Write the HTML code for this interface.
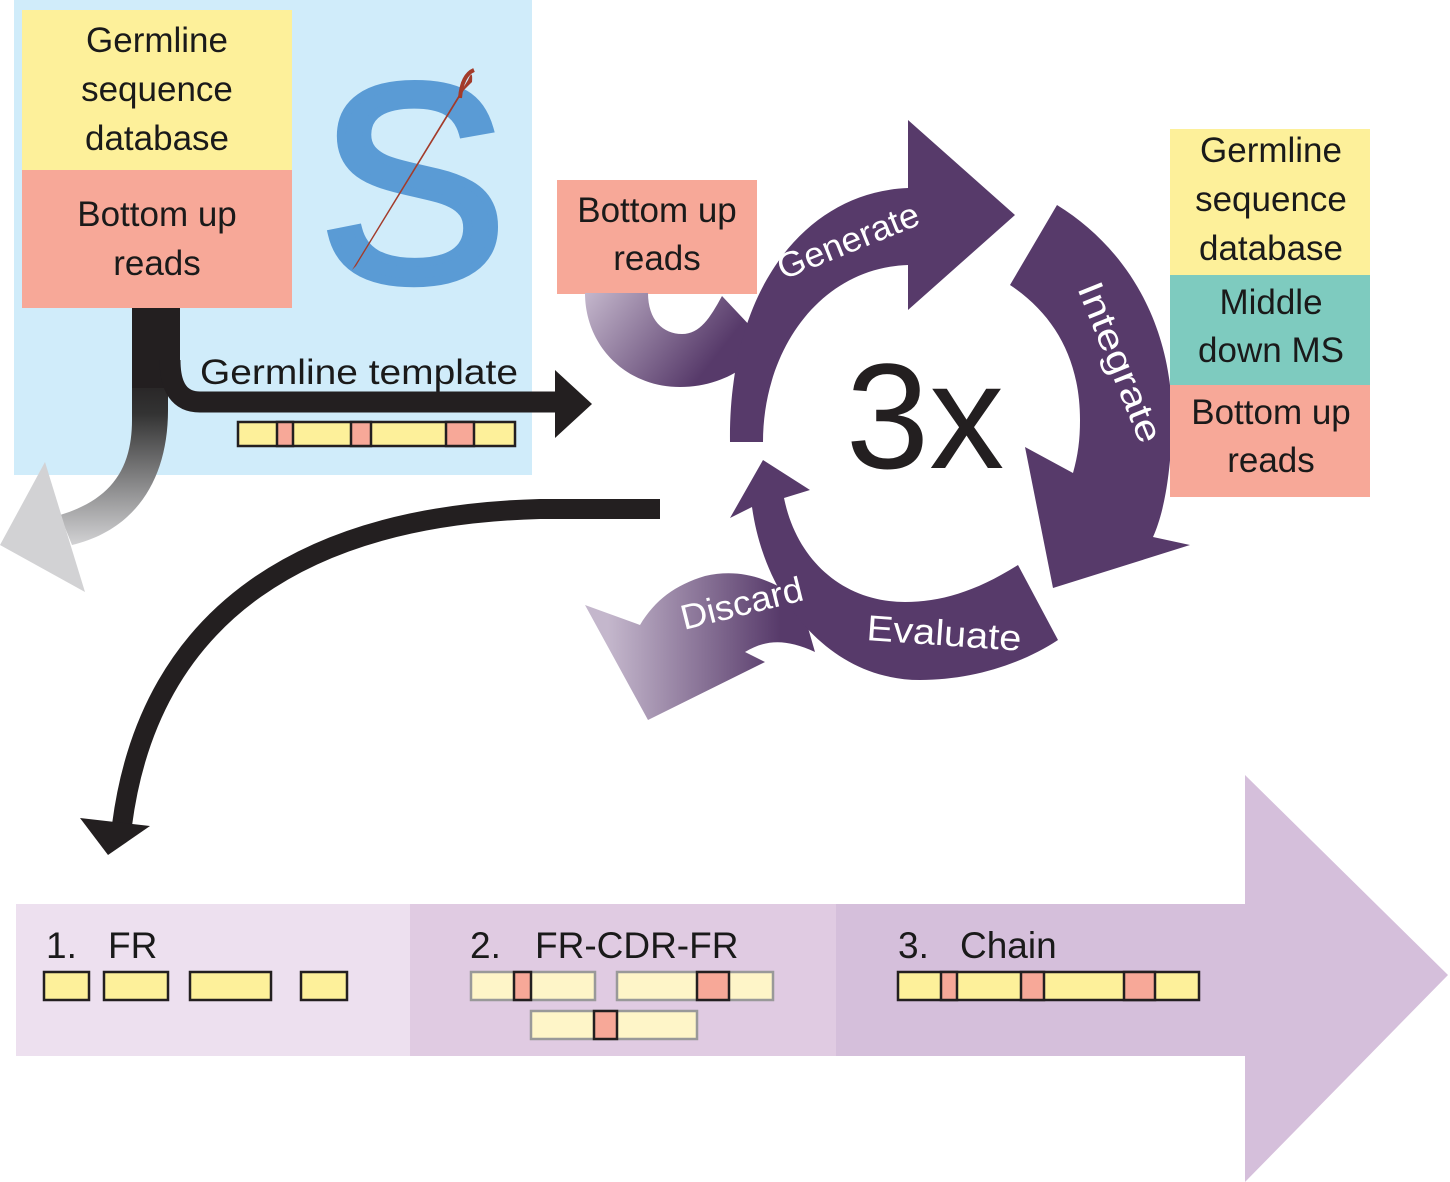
<!DOCTYPE html>
<html><head><meta charset="utf-8"><style>
html,body{margin:0;padding:0;background:#fff;}
svg{display:block;}
text{font-family:"Liberation Sans",sans-serif;fill:#1a1a1a;}
.w{fill:#fff;}
</style></head><body>
<svg width="1450" height="1182" viewBox="0 0 1450 1182" xmlns="http://www.w3.org/2000/svg">
<defs>
<linearGradient id="gg" x1="0" y1="0" x2="0" y2="1">
<stop offset="0" stop-color="#231f20"/><stop offset="0.25" stop-color="#333"/><stop offset="1" stop-color="#d2d2d4"/></linearGradient>
<linearGradient id="gt" x1="0" y1="0" x2="1" y2="0.4">
<stop offset="0" stop-color="#c4b7cc"/><stop offset="0.85" stop-color="#573a6a"/></linearGradient>
<linearGradient id="gd" x1="0" y1="0" x2="1" y2="0">
<stop offset="0.1" stop-color="#c4b7cc"/><stop offset="0.85" stop-color="#573a6a"/></linearGradient>
</defs>

<!-- blue panel -->
<rect x="14" y="0" width="518" height="475" fill="#d0ecfa"/>
<rect x="22" y="10" width="270" height="161" fill="#fdf09a"/>
<rect x="22" y="170" width="270" height="138" fill="#f7a898"/>
<g font-size="35" text-anchor="middle">
<text x="157" y="52">Germline</text><text x="157" y="101">sequence</text><text x="157" y="150">database</text>
<text x="157" y="226">Bottom up</text><text x="157" y="275">reads</text>
</g>
<text x="413" y="280" font-size="280" text-anchor="middle" style="fill:#5a9bd5;stroke:#5a9bd5;stroke-width:9" font-family="Liberation Sans">S</text>
<path d="M352,270 L468,80 Q473,68 472,82 L464,90 L356,266 Z" fill="#a33b2a"/>
<path d="M460,98 Q462,75 474,70" stroke="#a33b2a" stroke-width="4" fill="none"/>

<!-- grey down arrow -->
<path d="M132,370 L132,420 C132,470 110,500 60,515 L72,545 C135,530 168,480 168,410 L168,370 Z" fill="url(#gg)"/>
<polygon points="0,545 45,462 85,592" fill="#d2d2d4"/>
<rect x="132" y="308" width="48" height="80" fill="#231f20"/>
<path d="M170,360 Q170,402 200,402 L560,402" stroke="#231f20" stroke-width="21" fill="none"/>
<polygon points="555,370 592,404 555,438" fill="#231f20"/>
<text x="200" y="384" font-size="35" textLength="318" lengthAdjust="spacingAndGlyphs">Germline template</text>
<g stroke="#231f20" stroke-width="2.5">
<rect x="238" y="422" width="277" height="24" fill="#fdf09a"/>
<rect x="277" y="422" width="16" height="24" fill="#f7a898"/>
<rect x="351" y="422" width="20" height="24" fill="#f7a898"/>
<rect x="446" y="422" width="28" height="24" fill="#f7a898"/>
</g>

<!-- big black curve -->
<path d="M660,509 L540,509 C310,515 150,610 122,825" stroke="#231f20" stroke-width="20" fill="none"/>
<polygon points="80,818 150,826 108,855" fill="#231f20"/>

<!-- cycle -->
<rect x="557" y="180" width="200" height="114" fill="#f7a898"/>
<text x="657" y="222" font-size="35" text-anchor="middle">Bottom up</text>
<text x="657" y="270" font-size="35" text-anchor="middle">reads</text>
<path d="M585,293 L648,293 C648,320 663,334 682,334 C700,334 710,318 722,296 L768,345 C745,372 715,387 680,387 C625,387 585,345 585,293 Z" fill="url(#gt)"/>
<path d="M730,442 C728,290 805,192 908,188 L908,120 L1015,215 L908,310 L908,265 C820,268 763,350 763,442 Z" fill="#573a6a"/>
<path d="M1057,205 C1130,250 1175,330 1172,430 C1170,480 1163,515 1153,537 L1190,545 L1053,588 L1025,447 L1073,473 C1078,455 1080,440 1080,420 C1080,360 1055,315 1010,285 Z" fill="#573a6a"/>
<path d="M800,600 C770,578 740,568 705,576 C675,585 655,600 640,625 L585,605 L648,720 L765,662 L745,652 C765,640 785,638 815,652 Z" fill="url(#gd)"/>
<path d="M1018,565 C975,592 940,602 905,602 C845,602 797,562 784,498 L810,490 L763,460 L730,518 L752,507 C765,600 830,680 920,680 C970,680 1020,665 1058,640 Z" fill="#573a6a"/>

<text x="925" y="468" font-size="150" text-anchor="middle" style="fill:#231f20">3x</text>
<text class="w" font-size="35" transform="translate(783,280) rotate(-22)" textLength="150" lengthAdjust="spacingAndGlyphs">Generate</text>
<text class="w" font-size="36" transform="translate(1077,288) rotate(68)" textLength="170" lengthAdjust="spacingAndGlyphs">Integrate</text>
<text class="w" font-size="36" transform="translate(866,640) rotate(4)" textLength="155" lengthAdjust="spacingAndGlyphs">Evaluate</text>
<text class="w" font-size="35" transform="translate(684,630) rotate(-14)" textLength="125" lengthAdjust="spacingAndGlyphs">Discard</text>

<!-- right stack -->
<rect x="1170" y="129" width="200" height="147" fill="#fdf09a"/>
<rect x="1170" y="275" width="200" height="111" fill="#7ecbbf"/>
<rect x="1170" y="385" width="200" height="112" fill="#f7a898"/>
<g font-size="35" text-anchor="middle">
<text x="1271" y="162">Germline</text><text x="1271" y="211">sequence</text><text x="1271" y="260">database</text>
<text x="1271" y="314">Middle</text><text x="1271" y="362">down MS</text>
<text x="1271" y="424">Bottom up</text><text x="1271" y="472">reads</text>
</g>

<!-- bottom band -->
<rect x="16" y="904" width="395" height="152" fill="#ede0ef"/>
<rect x="410" y="904" width="427" height="152" fill="#e0cbe2"/>
<polygon points="836,904 1245,904 1245,775 1448,975 1245,1182 1245,1056 836,1056" fill="#d5bfdb"/>
<g font-size="37">
<text x="46" y="958">1.</text><text x="108" y="958">FR</text>
<text x="470" y="958">2.</text><text x="535" y="958">FR-CDR-FR</text>
<text x="898" y="958">3.</text><text x="960" y="958">Chain</text>
</g>
<g stroke="#231f20" stroke-width="2.5" fill="#fdf09a">
<rect x="44" y="972" width="45" height="28"/><rect x="104" y="972" width="64" height="28"/>
<rect x="190" y="972" width="81" height="28"/><rect x="301" y="972" width="46" height="28"/>
<rect x="898" y="972" width="301" height="28"/>
<rect x="941" y="972" width="16" height="28" fill="#f7a898"/>
<rect x="1021" y="972" width="23" height="28" fill="#f7a898"/>
<rect x="1124" y="972" width="31" height="28" fill="#f7a898"/>
</g>
<g stroke="#999" stroke-width="2.5" fill="#fef5c8">
<rect x="471" y="972" width="124" height="28"/><rect x="617" y="972" width="156" height="28"/>
<rect x="531" y="1011" width="166" height="28"/>
</g>
<g stroke="#231f20" stroke-width="2.5" fill="#f7a898">
<rect x="514" y="972" width="17" height="28"/><rect x="697" y="972" width="32" height="28"/>
<rect x="594" y="1011" width="23" height="28"/>
</g>
</svg>
</body></html>
